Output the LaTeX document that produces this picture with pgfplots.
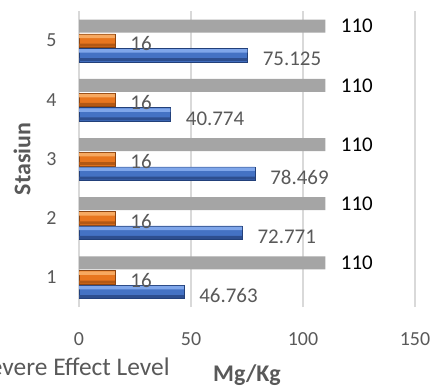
\documentclass[border=0pt]{standalone}
\usepackage{pgfplots}
\pgfplotsset{compat=1.18}
\usepackage{fontspec}
\setmainfont{Carlito}

\definecolor{gridgray}{HTML}{D9D9D9}
\definecolor{barGray}{HTML}{A5A5A5}
\definecolor{txtGray}{HTML}{595959}
\definecolor{blueTop}{HTML}{7FA6EA}
\definecolor{blueMid}{HTML}{4472C4}
\definecolor{blueBot}{HTML}{2D4E8F}
\definecolor{blueEdge}{HTML}{22407A}
\definecolor{orTop}{HTML}{F7A961}
\definecolor{orMid}{HTML}{E8761F}
\definecolor{orBot}{HTML}{B35814}
\definecolor{orEdge}{HTML}{8E4510}

% measured concentrations per station
\pgfplotstableread{
st  conc    isl  sel
1   46.763  16   110
2   72.771  16   110
3   78.469  16   110
4   40.774  16   110
5   75.125  16   110
}\datatable

\pgfplotsset{
  strip/.style={forget plot, draw=none, fill=#1},
}

\begin{document}
\begin{tikzpicture}
\begin{axis}[
  at={(79bp,80bp)}, anchor=south west,
  scale only axis, width=336bp, height=296bp,
  xbar,
  xmin=0, xmax=150, ymin=0.5, ymax=5.5,
  xtick={0,50,100,150}, ytick={1,2,3,4,5},
  axis line style={draw=none},
  major tick length=0pt,
  xmajorgrids, grid style={gridgray, line width=1.3bp},
  /pgf/number format/assume math mode=true,
  tick label style={font=\fontsize{20}{20}\selectfont, text=txtGray},
  xticklabel style={yshift=-22bp},
  yticklabel style={xshift=-19bp},
  xlabel={\textbf{Mg/Kg}}, ylabel={\textbf{Stasiun}},
  label style={font=\fontsize{24}{24}\selectfont, text=txtGray},
  xlabel style={yshift=-12.5bp},
  ylabel style={yshift=9bp},
  /pgf/number format/.cd, fixed, precision=3,
  /pgfplots/.cd,
  nodes near coords style={font=\fontsize{21}{21}\selectfont, anchor=west, xshift=12bp},
  legend style={draw=none, fill=none, at={(0.285,-0.205)}, anchor=east,
    font=\fontsize{25.5}{25.5}\selectfont, text=txtGray},
]
% severe effect level
\addplot[fill=barGray, draw=none, bar width=13bp, bar shift=14.5bp,
  nodes near coords, nodes near coords style={text=black}]
  table[x=sel, y=st] {\datatable};
\addlegendentry{Severe Effect Level}
% lowest effect level
\addplot[forget plot, fill=orMid, draw=orEdge, line width=0.5bp,
  bar width=13.5bp, bar shift=0bp,
  nodes near coords, nodes near coords style={text=txtGray, yshift=-3bp}]
  table[x=isl, y=st] {\datatable};
\addplot[strip=orTop, bar width=3.5bp, bar shift=4.3bp] table[x=isl, y=st] {\datatable};
\addplot[strip=orBot, bar width=3bp, bar shift=-4.6bp] table[x=isl, y=st] {\datatable};
% measured values
\addplot[forget plot, fill=blueMid, draw=blueEdge, line width=0.5bp,
  bar width=13.5bp, bar shift=-14.5bp,
  nodes near coords, nodes near coords style={text=txtGray, yshift=-4bp}]
  table[x=conc, y=st] {\datatable};
\addplot[strip=blueTop, bar width=3.5bp, bar shift=-10.2bp] table[x=conc, y=st] {\datatable};
\addplot[strip=blueBot, bar width=3bp, bar shift=-19.1bp] table[x=conc, y=st] {\datatable};
\end{axis}
\pgfresetboundingbox
\path[use as bounding box] (0,0) rectangle (432bp,387bp);
\end{tikzpicture}
\end{document}
